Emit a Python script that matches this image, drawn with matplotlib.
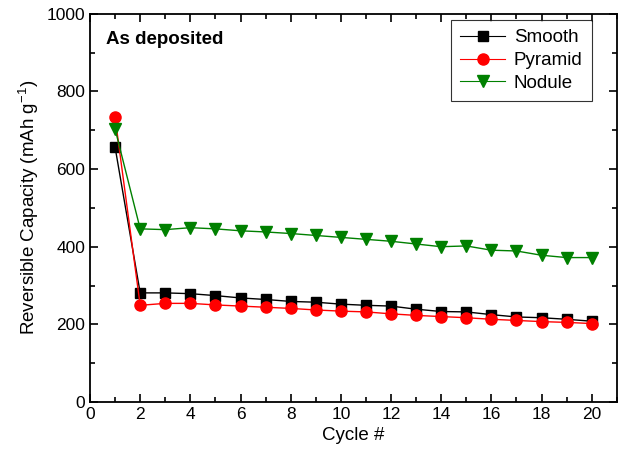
import numpy as np
import matplotlib.pyplot as plt
from matplotlib.ticker import MultipleLocator

plt.rcParams['font.family'] = ['Liberation Sans', 'DejaVu Sans']
plt.rcParams['mathtext.fontset'] = 'custom'
plt.rcParams['mathtext.rm'] = 'Liberation Sans'
plt.rcParams['mathtext.it'] = 'Liberation Sans:italic'

# capacity data (mAh/g)
cycles = list(range(1, 21))
smooth = [656, 281, 281, 279, 274, 268, 264, 259, 257, 252,
          249, 247, 239, 233, 232, 225, 219, 217, 213, 208]
pyramid = [733, 249, 254, 254, 250, 247, 244, 241, 237, 234,
           232, 227, 223, 220, 217, 213, 210, 207, 205, 202]
nodule = [703, 446, 444, 449, 446, 441, 438, 434, 429, 424,
          419, 414, 407, 400, 402, 391, 389, 378, 372, 372]

fig = plt.figure(figsize=(6.23, 4.62), dpi=100)
ax = fig.add_axes([0.1445, 0.130, 0.8455, 0.840])

ax.plot(cycles, smooth, color='black', lw=1, marker='s', markersize=6.5, label='Smooth')
ax.plot(cycles, pyramid, color='red', lw=1, marker='o', markersize=8, label='Pyramid')
ax.plot(cycles, nodule, color='green', lw=1, marker='v', markersize=8.5, label='Nodule')

ax.set_xlim(0, 21)
ax.set_ylim(0, 1000)
ax.xaxis.set_major_locator(MultipleLocator(2))
ax.xaxis.set_minor_locator(MultipleLocator(1))
ax.yaxis.set_major_locator(MultipleLocator(200))
ax.yaxis.set_minor_locator(MultipleLocator(100))
ax.tick_params(which='both', direction='in', top=True, right=True, labelsize=12.5, width=1.2)
ax.tick_params(which='major', length=6)
ax.tick_params(which='minor', length=3.5)
for s in ax.spines.values():
    s.set_linewidth(1.3)

ax.set_xlabel('Cycle #', fontsize=13.5)
ax.set_ylabel('Reversible Capacity (mAh g$^{\\mathrm{-1}}$)', fontsize=13.5)
ax.text(0.03, 0.955, 'As deposited', transform=ax.transAxes, fontsize=13.5,
        fontweight='bold', va='top', ha='left')

leg = ax.legend(loc='upper right', bbox_to_anchor=(0.9526, 0.9845), borderaxespad=0,
                fontsize=13.5, fancybox=False, edgecolor='black', handlelength=2.4,
                borderpad=0.5, labelspacing=0.3, handletextpad=0.45)
leg.get_frame().set_linewidth(0.8)
for ln in leg.get_lines():
    ln.set_linewidth(0.8)

fig.savefig('out.png', dpi=100)
